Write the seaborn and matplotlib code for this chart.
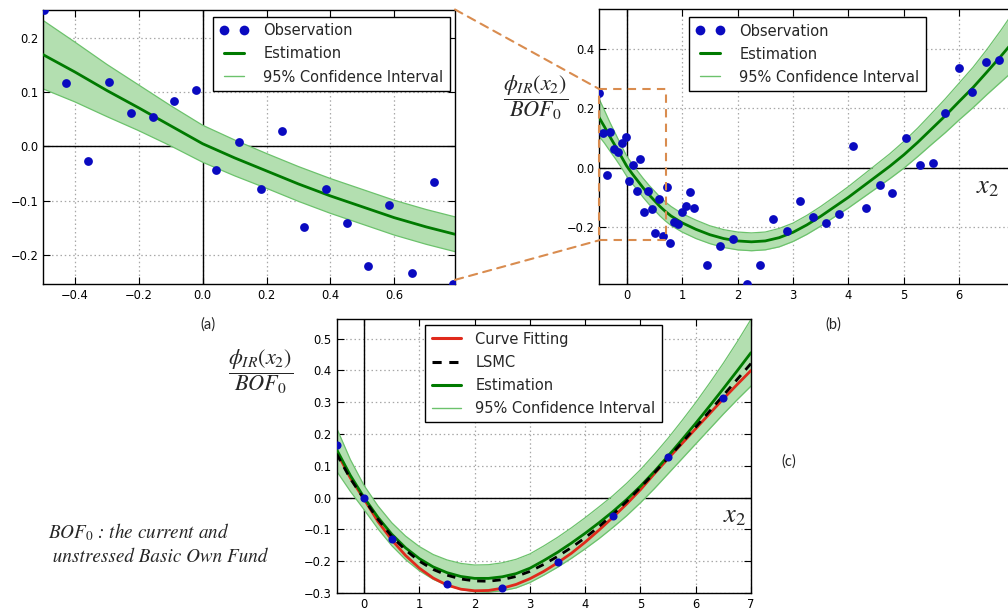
import matplotlib
matplotlib.use("Agg")
import matplotlib.pyplot as plt
import seaborn as sns
from matplotlib.patches import Rectangle, ConnectionPatch
from matplotlib.lines import Line2D

# ---------------- data ----------------
# observations (panel a is a zoom of panel b, same data)
obs_x = [-0.498, -0.428, -0.359, -0.294, -0.225, -0.155, -0.091, -0.021, 0.043, 0.113,
         0.182, 0.247, 0.316, 0.386, 0.452, 0.519, 0.584, 0.654, 0.723, 0.784,
         0.855, 0.925, 1.000, 1.065, 1.140, 1.215, 1.455, 1.680, 1.920, 2.165,
         2.405, 2.640, 2.890, 3.120, 3.360, 3.590, 3.830, 4.080, 4.325, 4.570,
         4.795, 5.035, 5.290, 5.530, 5.745, 6.000, 6.235, 6.480, 6.710]
obs_y = [0.251, 0.117, -0.026, 0.119, 0.062, 0.054, 0.083, 0.103, -0.044, 0.008,
         -0.078, 0.029, -0.149, -0.078, -0.141, -0.220, -0.107, -0.232, -0.066, -0.253,
         -0.184, -0.190, -0.149, -0.131, -0.083, -0.135, -0.328, -0.264, -0.240, -0.392,
         -0.328, -0.174, -0.213, -0.111, -0.166, -0.186, -0.157, 0.074, -0.137, -0.058,
         -0.086, 0.101, 0.009, 0.017, 0.183, 0.337, 0.253, 0.354, 0.361]

# estimation curve and 95% CI half-width for panels (a)/(b)
est_x = [-0.5, -0.4, -0.3, -0.2, -0.1, 0.0, 0.1, 0.2, 0.3, 0.4, 0.5, 0.6, 0.7, 0.8,
         1.0, 1.25, 1.5, 1.75, 2.0, 2.25, 2.5, 2.75, 3.0, 3.25, 3.5, 3.75, 4.0, 4.25,
         4.5, 4.75, 5.0, 5.25, 5.5, 5.75, 6.0, 6.25, 6.5, 6.75, 7.0]
est_y = [0.169, 0.137, 0.103, 0.071, 0.038, 0.005, -0.021, -0.045, -0.069, -0.091,
         -0.111, -0.131, -0.148, -0.163, -0.186, -0.208, -0.226, -0.239, -0.247, -0.250,
         -0.247, -0.236, -0.218, -0.193, -0.164, -0.132, -0.100, -0.065, -0.030, 0.005,
         0.043, 0.085, 0.130, 0.175, 0.223, 0.270, 0.322, 0.375, 0.430]
est_ci = [0.063, 0.055, 0.048, 0.042, 0.037, 0.034, 0.033, 0.032, 0.032, 0.032,
          0.032, 0.032, 0.032, 0.032, 0.031, 0.031, 0.030, 0.030, 0.030, 0.030,
          0.030, 0.031, 0.031, 0.032, 0.033, 0.034, 0.036, 0.038, 0.040, 0.042,
          0.045, 0.048, 0.052, 0.057, 0.062, 0.068, 0.076, 0.087, 0.100]

# panel (c)
c_obs_x = [-0.5, 0.0, 0.5, 1.5, 2.5, 3.5, 4.5, 5.5, 6.5]
c_obs_y = [0.167, 0.000, -0.131, -0.272, -0.285, -0.203, -0.058, 0.127, 0.314]
c_x = [-0.5, -0.25, 0.0, 0.25, 0.5, 0.75, 1.0, 1.25, 1.5, 1.75, 2.0, 2.25, 2.5, 2.75,
       3.0, 3.25, 3.5, 3.75, 4.0, 4.25, 4.5, 4.75, 5.0, 5.25, 5.5, 5.75, 6.0, 6.25,
       6.5, 6.75, 7.0]
c_fit = [0.145, 0.062, -0.005, -0.075, -0.133, -0.182, -0.222, -0.253, -0.275, -0.288,
         -0.293, -0.292, -0.285, -0.273, -0.255, -0.232, -0.205, -0.175, -0.140, -0.102,
         -0.062, -0.020, 0.025, 0.075, 0.123, 0.170, 0.217, 0.264, 0.311, 0.356, 0.400]
c_lsmc = [0.138, 0.060, -0.005, -0.068, -0.122, -0.165, -0.200, -0.226, -0.244, -0.256,
          -0.262, -0.263, -0.258, -0.248, -0.232, -0.210, -0.185, -0.157, -0.126, -0.091,
          -0.053, -0.012, 0.032, 0.078, 0.125, 0.173, 0.222, 0.272, 0.322, 0.372, 0.422]
c_est = [0.152, 0.070, 0.000, -0.062, -0.115, -0.158, -0.192, -0.218, -0.236, -0.248,
         -0.254, -0.254, -0.249, -0.239, -0.222, -0.198, -0.172, -0.143, -0.112, -0.079,
         -0.044, -0.006, 0.036, 0.082, 0.131, 0.182, 0.234, 0.288, 0.343, 0.399, 0.456]
c_ci = [0.068, 0.050, 0.038, 0.036, 0.036, 0.037, 0.038, 0.039, 0.040, 0.041,
        0.042, 0.043, 0.044, 0.045, 0.045, 0.046, 0.047, 0.048, 0.049, 0.050,
        0.050, 0.051, 0.052, 0.054, 0.056, 0.060, 0.065, 0.072, 0.080, 0.091, 0.105]

# ---------------- style ----------------
sns.set_style("white")
plt.rcParams.update({
    "font.family": ["DejaVu Sans"],
    "mathtext.fontset": "stix",
    "xtick.direction": "in", "ytick.direction": "in",
    "xtick.top": True, "ytick.right": True,
    "xtick.bottom": True, "ytick.left": True,
    "xtick.major.size": 5, "ytick.major.size": 5,
    "xtick.major.width": 0.8, "ytick.major.width": 0.8,
    "xtick.color": "black", "ytick.color": "black",
    "xtick.labelsize": 8.3, "ytick.labelsize": 8.3,
    "axes.edgecolor": "black", "axes.linewidth": 1.0,
})

BLUE = "#0a0ac0"
DGREEN = "#007a00"
LGREEN = "#6cc26c"
FILL = "#b3dfb0"
RED = "#e02a1c"
ORANGE = "#d98c4f"

fig = plt.figure(figsize=(10.08, 6.12), dpi=100)
W, H = 1008.0, 612.0

def place(l, t, r, b):
    return [l / W, 1 - b / H, (r - l) / W, (b - t) / H]

ax_a = fig.add_axes(place(43, 9.5, 455, 284))
ax_b = fig.add_axes(place(599, 9, 1014.7, 284))
ax_c = fig.add_axes(place(336.5, 319, 751, 593))

def base(ax):
    ax.grid(True, linestyle=(0, (1.2, 2.2)), color="#a8a8a8", linewidth=0.9)
    ax.set_axisbelow(True)
    ax.axhline(0, color="black", lw=1.0, zorder=1.5)
    ax.axvline(0, color="black", lw=1.0, zorder=1.5)
    for s in ax.spines.values():
        s.set_color("black")
        s.set_linewidth(1.0)

def est_panel(ax, s):
    base(ax)
    lo = [m - h for m, h in zip(est_y, est_ci)]
    hi = [m + h for m, h in zip(est_y, est_ci)]
    ax.fill_between(est_x, lo, hi, color=FILL, lw=0, zorder=2)
    sns.lineplot(x=est_x, y=lo, ax=ax, color=LGREEN, lw=0.9, estimator=None, sort=False, zorder=2.2)
    sns.lineplot(x=est_x, y=hi, ax=ax, color=LGREEN, lw=0.9, estimator=None, sort=False, zorder=2.2)
    sns.lineplot(x=est_x, y=est_y, ax=ax, color=DGREEN, lw=2.0, estimator=None, sort=False, zorder=3)
    sns.scatterplot(x=obs_x, y=obs_y, ax=ax, color=BLUE, s=s, linewidth=0, zorder=4)
    ax.set_xlabel(""); ax.set_ylabel("")

def obs_legend(ax, x0, y1):
    handles = [
        Line2D([], [], ls="none", marker="o", color=BLUE, markersize=7, markeredgewidth=0),
        Line2D([], [], color=DGREEN, lw=2.2),
        Line2D([], [], color=LGREEN, lw=1.0),
    ]
    lg = ax.legend(handles, ["Observation", "Estimation", "95% Confidence Interval"],
                   loc="upper left", bbox_to_anchor=(x0, y1), borderaxespad=0,
                   numpoints=2, fontsize=10.5, frameon=True, fancybox=False,
                   edgecolor="black", framealpha=1, handlelength=2.0,
                   handletextpad=1.0, labelspacing=0.55, borderpad=0.45)
    lg.get_frame().set_linewidth(1.0)
    lg.set_zorder(10)

# panel (a)
est_panel(ax_a, 40)
ax_a.set_xlim(-0.5, 0.79)
ax_a.set_ylim(-0.253, 0.252)
ax_a.set_xticks([-0.4, -0.2, 0.0, 0.2, 0.4, 0.6])
ax_a.set_yticks([-0.2, -0.1, 0.0, 0.1, 0.2])
obs_legend(ax_a, 0.4126, 0.973)

# panel (b)
est_panel(ax_b, 40)
ax_b.set_xlim(-0.5, 7.0)
ax_b.set_ylim(-0.392, 0.534)
ax_b.set_xticks([0, 1, 2, 3, 4, 5, 6])
ax_b.set_yticks([-0.2, 0.0, 0.2, 0.4])
obs_legend(ax_b, (689 - 599) / 415.7, 0.971)
ax_b.text((988 - 599) / 415.7, (284 - 186) / 275.0, r"$x_2$", transform=ax_b.transAxes,
          fontsize=19, ha="center", va="center")

# zoom box in (b) and connectors
bx0, bx1, by0, by1 = -0.5, 0.71, -0.245, 0.265
ax_b.add_patch(Rectangle((bx0, by0), bx1 - bx0, by1 - by0, fill=False, edgecolor=ORANGE,
                         ls=(0, (4, 3)), lw=1.5, clip_on=False, zorder=6))
for ya, yb in [(1.0, by1), (0.015, by0)]:
    con = ConnectionPatch(xyA=(1.0, ya), coordsA=ax_a.transAxes, xyB=(bx0, yb),
                          coordsB=ax_b.transData, color=ORANGE, ls=(0, (4, 3)), lw=1.5)
    con.set_clip_on(False)
    fig.add_artist(con)

# panel (c)
base(ax_c)
lo_c = [m - h for m, h in zip(c_est, c_ci)]
hi_c = [m + h for m, h in zip(c_est, c_ci)]
ax_c.fill_between(c_x, lo_c, hi_c, color=FILL, lw=0, zorder=2)
sns.lineplot(x=c_x, y=lo_c, ax=ax_c, color=LGREEN, lw=0.9, estimator=None, sort=False, zorder=2.2)
sns.lineplot(x=c_x, y=hi_c, ax=ax_c, color=LGREEN, lw=0.9, estimator=None, sort=False, zorder=2.2)
sns.lineplot(x=c_x, y=c_fit, ax=ax_c, color=RED, lw=2.0, estimator=None, sort=False, zorder=3)
sns.lineplot(x=c_x, y=c_lsmc, ax=ax_c, color="black", lw=2.0, estimator=None, sort=False,
             zorder=3.2, linestyle=(0, (3, 2.5)))
sns.lineplot(x=c_x, y=c_est, ax=ax_c, color=DGREEN, lw=2.0, estimator=None, sort=False, zorder=3.1)
sns.scatterplot(x=c_obs_x, y=c_obs_y, ax=ax_c, color=BLUE, s=34, linewidth=0, zorder=4)
ax_c.set_xlabel(""); ax_c.set_ylabel("")
ax_c.set_xlim(-0.5, 7.0)
ax_c.set_ylim(-0.3, 0.562)
ax_c.set_xticks([0, 1, 2, 3, 4, 5, 6, 7])
ax_c.set_yticks([-0.3, -0.2, -0.1, 0.0, 0.1, 0.2, 0.3, 0.4, 0.5])
hc = [Line2D([], [], color=RED, lw=2.2),
      Line2D([], [], color="black", lw=2.2, ls=(0, (3, 2.5))),
      Line2D([], [], color=DGREEN, lw=2.2),
      Line2D([], [], color=LGREEN, lw=1.0)]
lgc = ax_c.legend(hc, ["Curve Fitting", "LSMC", "Estimation", "95% Confidence Interval"],
                  loc="upper left", bbox_to_anchor=(0.2135, 0.978), borderaxespad=0,
                  fontsize=10.5, frameon=True, fancybox=False, edgecolor="black",
                  framealpha=1, handlelength=2.0, handletextpad=1.0,
                  labelspacing=0.55, borderpad=0.45)
lgc.get_frame().set_linewidth(1.0)
lgc.set_zorder(10)
ax_c.text(0.961, 0.285, r"$x_2$", transform=ax_c.transAxes, fontsize=19, ha="center", va="center")

# y-label fractions and annotations
frac = r"$\dfrac{\phi_{IR}(x_2)}{BOF_0}$"
fig.text(536 / W, 1 - 98 / H, frac, fontsize=16, ha="center", va="center")
fig.text(261 / W, 1 - 372 / H, frac, fontsize=16, ha="center", va="center")

fig.text(208 / W, 1 - 325 / H, "(a)", fontsize=10.5, family="Lato", ha="center", va="center")
fig.text(833 / W, 1 - 325 / H, "(b)", fontsize=10.5, family="Lato", ha="center", va="center")
fig.text(789 / W, 1 - 462 / H, "(c)", fontsize=10.5, family="Lato", ha="center", va="center")

fig.text(48 / W, 1 - 544 / H, r"$BOF_0$ : the current and" + "\n" + " unstressed Basic Own Fund",
         fontsize=13.8, family="STIXGeneral", style="italic", ha="left", va="center",
         linespacing=1.3)

fig.savefig("out.png", dpi=100)
